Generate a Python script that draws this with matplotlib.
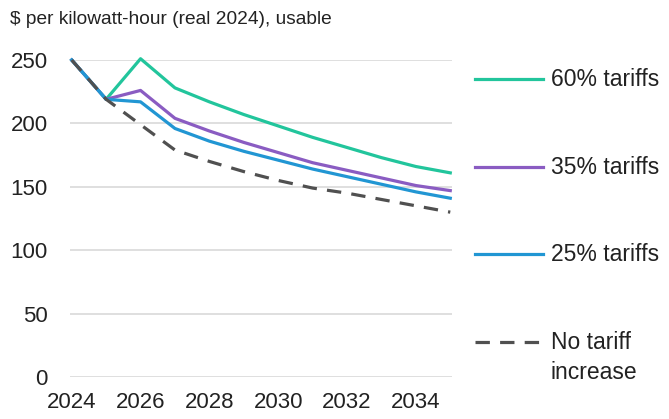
import matplotlib
matplotlib.use("Agg")
import matplotlib.pyplot as plt
from matplotlib.lines import Line2D

plt.rcParams['font.family'] = ['Liberation Sans', 'DejaVu Sans']

years = [2024, 2025, 2026, 2027, 2028, 2029, 2030, 2031, 2032, 2033, 2034, 2035]
tariff_60 = [250, 219, 251, 228, 217, 207, 198, 189, 181, 173, 166, 161]
tariff_35 = [250, 219, 226, 204, 194, 185, 177, 169, 163, 157, 151, 147]
tariff_25 = [250, 219, 217, 196, 186, 178, 171, 164, 158, 152, 146, 141]
no_tariff = [250, 219, 199, 179, 170, 162, 155, 149, 145, 140, 135, 130]

labels = ["60% tariffs", "35% tariffs", "25% tariffs", "No tariff\nincrease"]
colors = ["#22c59c", "#8a5cc2", "#2196d3", "#505050"]
xticks = [2024, 2026, 2028, 2030, 2032, 2034]
yticks = [0, 50, 100, 150, 200, 250]

W, H = 669, 419
fig = plt.figure(figsize=(W / 100, H / 100), dpi=100)
ax = fig.add_axes([70 / W, 1 - 377 / H, (452 - 70) / W, (377 - 60) / H])

series = [tariff_60, tariff_35, tariff_25]
for vals, c in zip(series, colors[:3]):
    ax.plot(years, vals, color=c, lw=2.3, clip_on=False, zorder=3)
ax.plot(years, no_tariff, color=colors[3], lw=2.3, dashes=(4.5, 3.2),
        clip_on=False, zorder=4)

ax.set_xlim(2023.95, 2035.05)
ax.set_ylim(0, 250)
ax.set_xticks(xticks)
ax.set_yticks(yticks)
ax.tick_params(length=0, labelsize=16, colors="#222222")
ax.tick_params(axis="y", pad=16)
ax.tick_params(axis="x", pad=11)
ax.grid(axis="y", color="#d9d9d9", lw=1.2)
ax.set_axisbelow(True)
for s in ax.spines.values():
    s.set_visible(False)

# axis title sits above the plot
fig.text(10 / W, 1 - 19 / H, "$ per kilowatt-hour (real 2024), usable",
         fontsize=13.8, va="center", ha="left", color="#222222")

# legend drawn by hand on the right
leg_y = [79, 167, 254, 342]
for i, (lab, c) in enumerate(zip(labels, colors)):
    y = 1 - leg_y[i] / H
    ln = Line2D([475 / W, 543 / W], [y, y], transform=fig.transFigure,
                color=c, lw=2.3)
    if i == 3:
        ln.set_dashes((4.5, 3.2))
    fig.add_artist(ln)
    if i == 3:
        fig.text(551 / W, y + 11 / H, lab, fontsize=16.5, va="top", ha="left",
                 color="#222222", linespacing=1.4)
    else:
        fig.text(551 / W, y, lab, fontsize=16.5, va="center", ha="left",
                 color="#222222")

fig.savefig("out.png", dpi=100)
